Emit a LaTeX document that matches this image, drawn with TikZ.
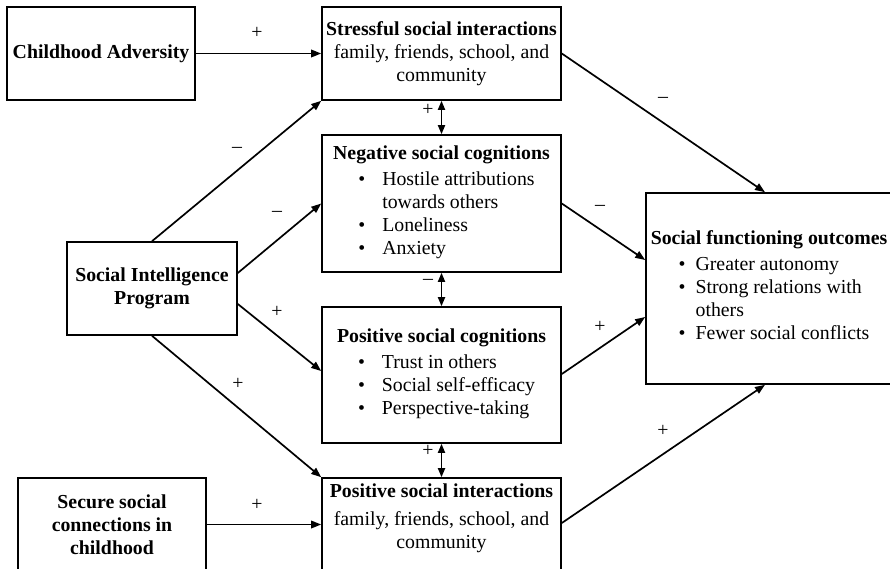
\documentclass[tikz,border=0pt]{standalone}
\usepackage{fontspec}
\setmainfont{Liberation Serif}
\usetikzlibrary{arrows.meta,calc}
\newcommand{\diagfont}{\fontsize{19.8}{23}\selectfont}
\newcommand{\blt}{\textbullet}
\begin{document}
\begin{tikzpicture}[x=1pt,y=-1pt,
  box/.style={draw, line width=1.6pt, inner sep=0pt, align=center, font=\diagfont},
  thickbox/.style={box, line width=2.4pt},
  txt/.style={inner sep=0pt, align=center, font=\diagfont},
  sign/.style={inner sep=0pt, font=\diagfont},
  arr/.style={line width=1.7pt, -{Triangle[length=10pt,width=7.5pt]}},
  dbl/.style={line width=1.7pt, {Triangle[length=9pt,width=7pt]}-{Triangle[length=9pt,width=7pt]}}]
\useasboundingbox (0,0) rectangle (890,568);
\clip (0,0) rectangle (890,568);

% boxes
\node[thickbox, minimum width=188pt, minimum height=93pt] (adv) at (101,53.5)
  {\textbf{Childhood Adversity}};
\node[box, minimum width=239pt, minimum height=93pt] (str) at (441.5,53.5)
  {\textbf{Stressful social interactions}\\family, friends, school, and\\community};
\node[box, minimum width=239pt, minimum height=137pt] (neg) at (441.5,203.5)
  {\textbf{Negative social cognitions}\\[4pt]
   \hspace*{10pt}\begin{tabular}{@{}l@{\hspace{17pt}}l@{}}
   \blt & Hostile attributions\\
        & towards others\\
   \blt & Loneliness\\
   \blt & Anxiety
   \end{tabular}};
\node[box, minimum width=170pt, minimum height=93pt] (sip) at (152,288.5)
  {\textbf{Social Intelligence}\\\textbf{Program}};
\node[box, minimum width=239pt, minimum height=136pt] (pcog) at (441.5,375)
  {\textbf{Positive social cognitions}\\[4pt]
   \hspace*{10pt}\begin{tabular}{@{}l@{\hspace{17pt}}l@{}}
   \blt & Trust in others\\
   \blt & Social self-efficacy\\
   \blt & Perspective-taking
   \end{tabular}};
\node[box, minimum width=239pt, minimum height=93pt] (pint) at (441.5,524.5) {};
\node[txt] (pinttext) at (441.5,518)
  {\textbf{Positive social interactions}\\[5pt]family, friends, school, and\\community};
\node[thickbox, minimum width=188pt, minimum height=93pt] (sec) at (112,524.5)
  {\textbf{Secure social}\\\textbf{connections in}\\\textbf{childhood}};
\node[box, minimum width=246pt, minimum height=191pt] (sfo) at (769,288.5)
  {\textbf{Social functioning outcomes}\\[5pt]
   \hspace*{10pt}\begin{tabular}{@{}l@{\hspace{10pt}}l@{}}
   \blt & Greater autonomy\\
   \blt & Strong relations with\\
        & others\\
   \blt & Fewer social conflicts
   \end{tabular}};

% connectors
\draw[arr] (adv.east) -- (str.west);
\draw[dbl] (str.south) -- (neg.north);
\draw[dbl] (neg.south) -- (pcog.north);
\draw[dbl] (pcog.south) -- (pint.north);
\draw[arr] (sip.north) -- (str.south west);
\draw[arr] ($(sip.east)+(0,-15.5)$) -- (neg.west);
\draw[arr] ($(sip.east)+(0,15.5)$) -- ($(pcog.west)+(0,-4)$);
\draw[arr] (sip.south) -- (pint.north west);
\draw[arr] (sec.east) -- (pint.west);
\draw[arr] (str.east) -- ($(sfo.north)+(-4,0)$);
\draw[arr] (neg.east) -- ($(sfo.west)+(0,-28.5)$);
\draw[arr] ($(pcog.east)+(0,-1)$) -- ($(sfo.west)+(0,28.5)$);
\draw[arr] ($(pint.east)+(0,-1.5)$) -- ($(sfo.south)+(-4,0)$);

% path signs
\node[sign] (s1) at (257,33) {+};
\node[sign] (s2) at (428,110) {+};
\node[sign] (s3) at (428,282) {–};
\node[sign] (s4) at (428,451) {+};
\node[sign] (s5) at (237,150) {–};
\node[sign] (s6) at (277,214) {–};
\node[sign] (s7) at (277,312) {+};
\node[sign] (s8) at (238,384) {+};
\node[sign] (s9) at (257,505) {+};
\node[sign] (s10) at (663,100) {–};
\node[sign] (s11) at (600,208) {–};
\node[sign] (s12) at (600,327) {+};
\node[sign] (s13) at (663,431) {+};
\end{tikzpicture}
\end{document}
